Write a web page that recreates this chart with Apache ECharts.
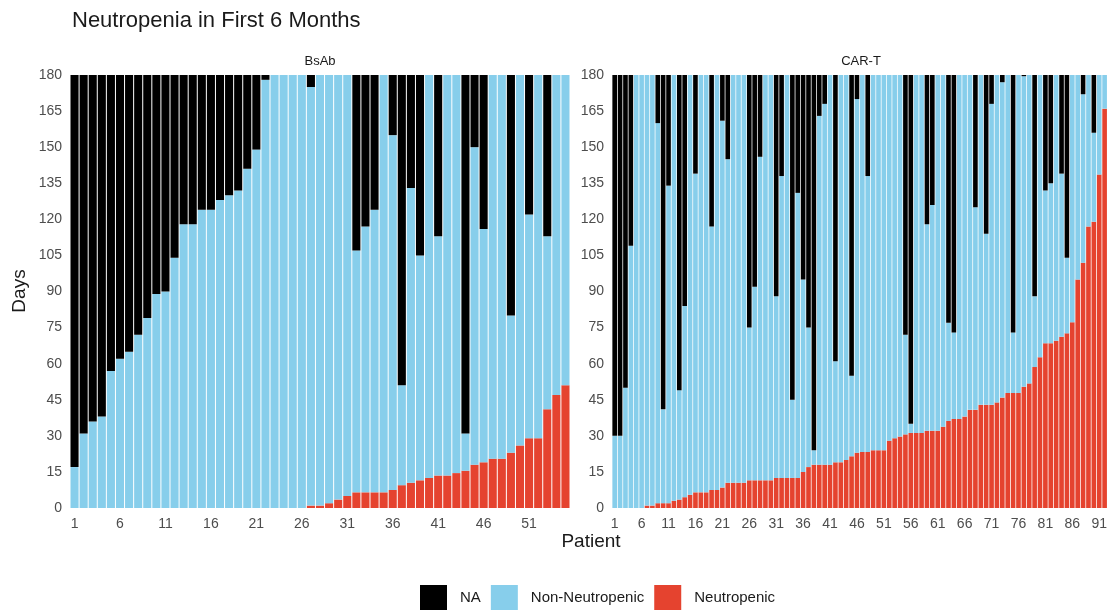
<!DOCTYPE html>
<html>
<head>
<meta charset="utf-8">
<script src="https://cdn.jsdelivr.net/npm/echarts@6/dist/echarts.min.js"></script>
<style>
  html, body { margin: 0; padding: 0; background: #ffffff; }
  #chart { width: 1110px; height: 612px; }
</style>
</head>
<body>
<div id="chart"></div>
<script>
// Follow-up window (days)
const windowDays = 180;

// BsAb cohort: neutropenic days, and last observed day (beyond it the status is NA)
const bsabNeutropenic = [
  0, 0, 0, 0, 0, 0, 0, 0, 0, 0,
  0, 0, 0, 0, 0, 0, 0, 0, 0, 0,
  0, 0, 0, 0, 0, 0, 1, 1, 2, 3.5,
  5, 6.5, 6.5, 6.5, 6.5, 7.5, 9.5, 10.5, 11.5, 12.5,
  13.5, 13.5, 14.5, 15.5, 18, 19, 20.5, 20.5, 23, 26,
  29, 29, 41, 47, 51
];
const bsabObserved = [
  17, 31, 36, 38, 57, 62, 65, 72, 79, 89,
  90, 104, 118, 118, 124, 124, 128, 130, 132, 141,
  149, 178, 180, 180, 180, 180, 175, 180, 180, 180,
  180, 107, 117, 124, 180, 155, 51, 133, 105, 180,
  113, 180, 180, 31, 150, 116, 180, 180, 80, 180,
  122, 180, 113, 180, 180
];

// CAR-T cohort
const cartNeutropenic = [
  0, 0, 0, 0, 0, 0, 1, 1, 2, 2,
  2, 3, 3.5, 4.5, 5.5, 6.5, 6.5, 6.5, 7.5, 7.5,
  8.5, 10.5, 10.5, 10.5, 10.5, 11.5, 11.5, 11.5, 11.5, 11.5,
  12.5, 12.5, 12.5, 12.5, 12.5, 15, 17, 18, 18, 18,
  18, 19, 19, 20, 21.5, 23, 23.3, 23.3, 24, 24,
  24, 28, 29, 29.7, 30.6, 31.2, 31.2, 31.2, 32.1, 32.1,
  32.1, 33.8, 36.2, 37, 37, 38, 40.8, 40.8, 42.9, 42.9,
  42.9, 43.9, 45.9, 47.8, 47.8, 47.8, 50.4, 51.8, 58.6, 62.7,
  68.5, 68.5, 69.5, 71.2, 72.6, 77.2, 95, 102, 117, 119,
  138.6, 166
];
const cartObserved = [
  30, 30, 50, 109, 180, 180, 180, 180, 160, 41,
  134, 180, 49, 84, 180, 139, 180, 180, 117, 180,
  161, 145, 180, 180, 180, 75, 92, 146, 180, 180,
  88, 138, 180, 45, 131, 95, 75, 24, 163, 168,
  180, 61, 180, 180, 55, 170, 180, 138, 180, 180,
  180, 180, 180, 180, 72, 35, 180, 180, 118, 126,
  180, 180, 77, 73, 180, 180, 180, 125, 180, 114,
  168, 180, 177, 180, 73, 180, 179.5, 180, 88, 180,
  132, 135, 180, 139, 104, 180, 180, 172, 180, 156,
  180, 180
];

const statusNames = ['NA', 'Non-Neutropenic', 'Neutropenic'];
const statusColors = { 'NA': '#000000', 'Non-Neutropenic': '#87CEEB', 'Neutropenic': '#E5432F' };
const panelTitles = ['BsAb', 'CAR-T'];

const FONT = '"Liberation Sans", Arial, Helvetica, sans-serif';
const TICK_COLOR = '#4D4D4D';

function patientIds(values) {
  return values.map((_, i) => String(i + 1));
}

// Split each patient's window into neutropenic / non-neutropenic / unobserved days
function segments(neutro, observed) {
  return {
    'Neutropenic': neutro.slice(),
    'Non-Neutropenic': observed.map((v, i) => v - neutro[i]),
    'NA': observed.map(v => windowDays - v)
  };
}

const panels = [
  { seg: segments(bsabNeutropenic, bsabObserved), cats: patientIds(bsabObserved), gap: '11%' },
  { seg: segments(cartNeutropenic, cartObserved), cats: patientIds(cartObserved), gap: '14%' }
];

const grids = [
  { left: 70, top: 75, width: 500, height: 433 },
  { left: 612, top: 75, width: 498, height: 433 }
];

const xAxes = panels.map((p, k) => ({
  type: 'category',
  gridIndex: k,
  data: p.cats,
  axisLine: { show: false },
  axisTick: { show: false },
  axisLabel: {
    interval: (index) => index % 5 === 0,
    margin: 9,
    fontSize: 14,
    color: TICK_COLOR,
    fontFamily: FONT
  }
}));

const yAxes = panels.map((p, k) => ({
  type: 'value',
  gridIndex: k,
  min: 0,
  max: windowDays,
  interval: 15,
  axisLine: { show: false },
  axisTick: { show: false },
  splitLine: { show: false },
  axisLabel: { margin: 8, fontSize: 14, color: TICK_COLOR, fontFamily: FONT }
}));

const stackOrder = ['Neutropenic', 'Non-Neutropenic', 'NA'];
const series = [];
panels.forEach((p, k) => {
  stackOrder.forEach(name => {
    series.push({
      name: name,
      type: 'bar',
      xAxisIndex: k,
      yAxisIndex: k,
      stack: 'panel' + k,
      barCategoryGap: p.gap,
      itemStyle: { color: statusColors[name] },
      emphasis: { disabled: true },
      data: p.seg[name]
    });
  });
});

const chart = echarts.init(document.getElementById('chart'), null, { renderer: 'canvas' });
chart.setOption({
  animation: false,
  backgroundColor: '#ffffff',
  grid: grids,
  xAxis: xAxes,
  yAxis: yAxes,
  series: series,
  legend: {
    data: statusNames,
    left: 415,
    top: 580,
    icon: 'rect',
    itemWidth: 27,
    itemHeight: 25,
    itemGap: 10,
    selectedMode: false,
    textStyle: { fontSize: 15, color: '#1a1a1a', fontFamily: FONT, padding: [0, 0, 0, 8] }
  },
  graphic: [
    { type: 'text', x: 72, y: 21, style: { text: 'Neutropenia in First 6 Months', fill: '#1a1a1a', font: '22px ' + FONT, textAlign: 'left', textVerticalAlign: 'middle' } },
    { type: 'text', x: 320, y: 61, style: { text: panelTitles[0], fill: '#1a1a1a', font: '13px ' + FONT, textAlign: 'center', textVerticalAlign: 'middle' } },
    { type: 'text', x: 861, y: 61, style: { text: panelTitles[1], fill: '#1a1a1a', font: '13px ' + FONT, textAlign: 'center', textVerticalAlign: 'middle' } },
    { type: 'text', x: 20, y: 291, rotation: Math.PI / 2, style: { text: 'Days', fill: '#1a1a1a', font: '19px ' + FONT, textAlign: 'center', textVerticalAlign: 'middle' } },
    { type: 'text', x: 591, y: 542, style: { text: 'Patient', fill: '#1a1a1a', font: '19px ' + FONT, textAlign: 'center', textVerticalAlign: 'middle' } }
  ]
});
</script>
</body>
</html>
